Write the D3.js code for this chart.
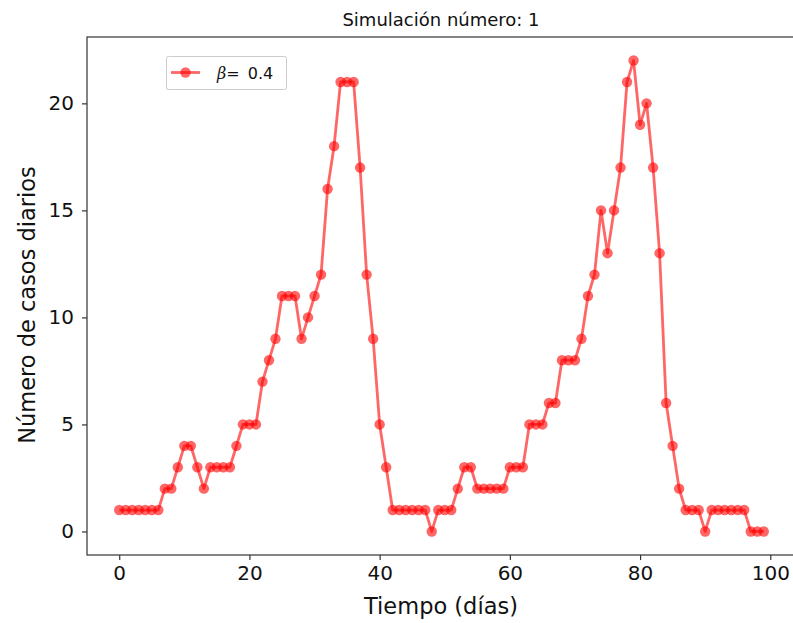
<!DOCTYPE html>
<html>
<head>
<meta charset="utf-8">
<script src="https://cdn.jsdelivr.net/npm/d3@7"></script>
<style>
  html, body { margin: 0; padding: 0; background: #fff; }
  svg { display: block; font-family: "DejaVu Sans", sans-serif; }
</style>
</head>
<body>
<svg id="chart" width="793" height="623"></svg>
<script>
// Daily cases per day of the simulation (days 0..99)
const days = d3.range(0, 100);
const dailyCases = [
  1, 1, 1, 1, 1, 1, 1, 2, 2, 3,
  4, 4, 3, 2, 3, 3, 3, 3, 4, 5,
  5, 5, 7, 8, 9, 11, 11, 11, 9, 10,
  11, 12, 16, 18, 21, 21, 21, 17, 12, 9,
  5, 3, 1, 1, 1, 1, 1, 1, 0, 1,
  1, 1, 2, 3, 3, 2, 2, 2, 2, 2,
  3, 3, 3, 5, 5, 5, 6, 6, 8, 8,
  8, 9, 11, 12, 15, 13, 15, 17, 21, 22,
  19, 20, 17, 13, 6, 4, 2, 1, 1, 1,
  0, 1, 1, 1, 1, 1, 1, 0, 0, 0
];
const xTicks = [0, 20, 40, 60, 80, 100];
const yTicks = [0, 5, 10, 15, 20];
const betaValue = "0.4";
const titleText = "Simulación número: 1";
const xLabel = "Tiempo (días)";
const yLabel = "Número de casos diarios";

const svg = d3.select("#chart");
const plot = { left: 87, right: 796, top: 37, bottom: 555 };

// 5% padding around the data range on both axes
const xMin = d3.min(days), xMax = d3.max(days);
const xPad = (xMax - xMin) * 0.05;
const yMin = d3.min(dailyCases), yMax = d3.max(dailyCases);
const yPad = (yMax - yMin) * 0.05;

const x = d3.scaleLinear().domain([xMin - xPad, xMax + xPad]).range([plot.left, plot.right]);
const y = d3.scaleLinear().domain([yMin - yPad, yMax + yPad]).range([plot.bottom, plot.top]);

const red = "rgba(255,0,0,0.6)";
const axisColor = "#333";

// Series line
const line = d3.line().x((d, i) => x(days[i])).y(d => y(d));
svg.append("path")
  .datum(dailyCases)
  .attr("d", line)
  .attr("fill", "none")
  .attr("stroke", red)
  .attr("stroke-width", 2.8)
  .attr("stroke-linejoin", "round");

// Markers
svg.append("g").selectAll("circle")
  .data(dailyCases)
  .join("circle")
  .attr("cx", (d, i) => x(days[i]))
  .attr("cy", d => y(d))
  .attr("r", 5.2)
  .attr("fill", red);

// Axes
const xAxis = svg.append("g")
  .attr("transform", `translate(0,${plot.bottom})`)
  .call(d3.axisBottom(x).tickValues(xTicks).tickSize(5).tickPadding(6).tickFormat(d3.format("d")));
const yAxis = svg.append("g")
  .attr("transform", `translate(${plot.left},0)`)
  .call(d3.axisLeft(y).tickValues(yTicks).tickSize(5).tickPadding(8).tickFormat(d3.format("d")));

[xAxis, yAxis].forEach(g => {
  g.select(".domain").remove();
  g.selectAll(".tick line").attr("stroke", axisColor).attr("stroke-width", 1.2);
  g.selectAll(".tick text")
    .attr("fill", "#111")
    .style("font-family", "DejaVu Sans, sans-serif")
    .style("font-size", "20px");
});

// Spines (the right one falls just outside the canvas)
svg.append("rect")
  .attr("x", plot.left).attr("y", plot.top)
  .attr("width", plot.right - plot.left).attr("height", plot.bottom - plot.top)
  .attr("fill", "none").attr("stroke", axisColor).attr("stroke-width", 1.2);

// Title and axis labels
svg.append("text")
  .attr("x", 441).attr("y", 26)
  .attr("text-anchor", "middle")
  .style("font-size", "18px").attr("fill", "#111")
  .text(titleText);

svg.append("text")
  .attr("x", 441).attr("y", 614)
  .attr("text-anchor", "middle")
  .style("font-size", "22.5px").attr("fill", "#111")
  .text(xLabel);

svg.append("text")
  .attr("transform", `translate(35,${(plot.top + plot.bottom) / 2 + 9}) rotate(-90)`)
  .attr("text-anchor", "middle")
  .style("font-size", "22.5px").attr("fill", "#111")
  .text(yLabel);

// Legend
const legend = svg.append("g").attr("transform", "translate(166,56)");
legend.append("rect")
  .attr("x", 0.5).attr("y", 0.5).attr("width", 120).attr("height", 33)
  .attr("rx", 2)
  .attr("fill", "#fff").attr("stroke", "#ccc").attr("stroke-width", 1);
legend.append("line")
  .attr("x1", 5).attr("x2", 34).attr("y1", 16.5).attr("y2", 16.5)
  .attr("stroke", red).attr("stroke-width", 2.8);
legend.append("circle")
  .attr("cx", 19.5).attr("cy", 16.5).attr("r", 5.2).attr("fill", red);
const lt = legend.append("text")
  .attr("x", 51).attr("y", 22.5)
  .style("font-size", "16px").attr("fill", "#111");
lt.append("tspan").style("font-style", "italic").style("font-family", "DejaVu Serif, serif").text("β");
lt.append("tspan").text("= ");
lt.append("tspan").attr("dx", 3).text(betaValue);
</script>
</body>
</html>
